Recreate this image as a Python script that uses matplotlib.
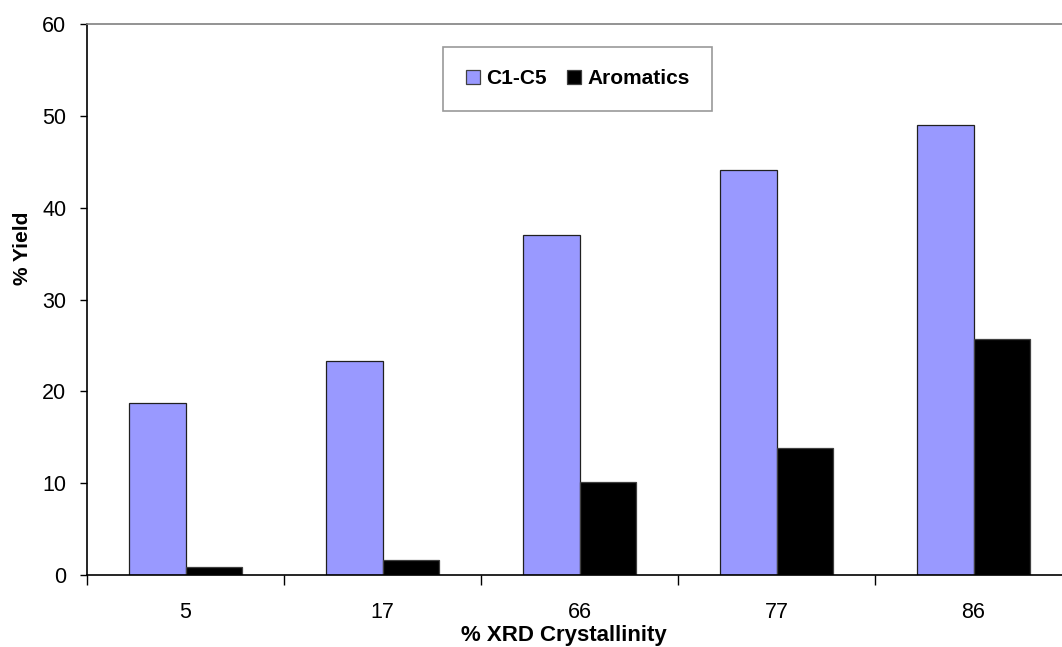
import matplotlib.pyplot as plt
import numpy as np

plt.rcParams['font.family'] = ['Liberation Sans', 'DejaVu Sans']

crystallinity = ["5", "17", "66", "77", "86"]
c1_c5 = [18.7, 23.3, 37.0, 44.1, 49.0]
aromatics = [0.9, 1.6, 10.1, 13.8, 25.7]

fig = plt.figure(figsize=(10.62, 6.47), dpi=100)
ax = fig.add_axes([87 / 1062, 1 - 575 / 647, 985 / 1062, 551 / 647])

x = np.arange(len(crystallinity))
w = 0.286
ax.bar(x - w / 2, c1_c5, width=w, color="#9999FF", edgecolor="#202020", linewidth=0.9, label="C1-C5")
ax.bar(x + w / 2, aromatics, width=w, color="black", edgecolor="#404040", linewidth=0.9, label="Aromatics")

ax.set_xlim(-0.5, len(crystallinity) - 0.5)
ax.set_ylim(0, 60)
ax.set_yticks(range(0, 61, 10))

# ticks on category boundaries, labels at centres
ax.set_xticks(np.arange(-0.5, len(crystallinity), 1.0))
ax.set_xticklabels([])
ax.set_xticks(x, minor=True)
ax.set_xticklabels(crystallinity, minor=True)
ax.tick_params(axis="x", which="major", direction="out", length=7, width=1, color="black")
ax.tick_params(axis="x", which="minor", length=0, pad=19.5, labelsize=15.5)
ax.tick_params(axis="y", direction="out", length=5, width=1, pad=10, labelsize=15.5)

for s in ["left", "bottom"]:
    ax.spines[s].set_color("black")
    ax.spines[s].set_linewidth(1.2)
for s in ["top", "right"]:
    ax.spines[s].set_color("#808080")
    ax.spines[s].set_linewidth(1.2)

ax.set_xlabel("% XRD Crystallinity", fontsize=16, fontweight="bold")
ax.xaxis.set_label_coords(0.484, -0.0915)
ax.set_ylabel("% Yield", fontsize=15, fontweight="bold")
ax.yaxis.set_label_coords(-0.056, 0.592)

leg = ax.legend(loc="center", bbox_to_anchor=(0.544, 0.878), bbox_transform=fig.transFigure,
                ncol=2, frameon=True, fancybox=False, shadow=False,
                prop={"size": 15, "weight": "bold"}, handlelength=0.65, handleheight=0.65,
                handletextpad=0.3, columnspacing=1.0, borderpad=1.1, borderaxespad=0)
leg.get_frame().set_edgecolor("#808080")
leg.get_frame().set_linewidth(1.2)
for h in leg.legend_handles:
    h.set_edgecolor("#404040")

fig.savefig("out.png", dpi=100)
